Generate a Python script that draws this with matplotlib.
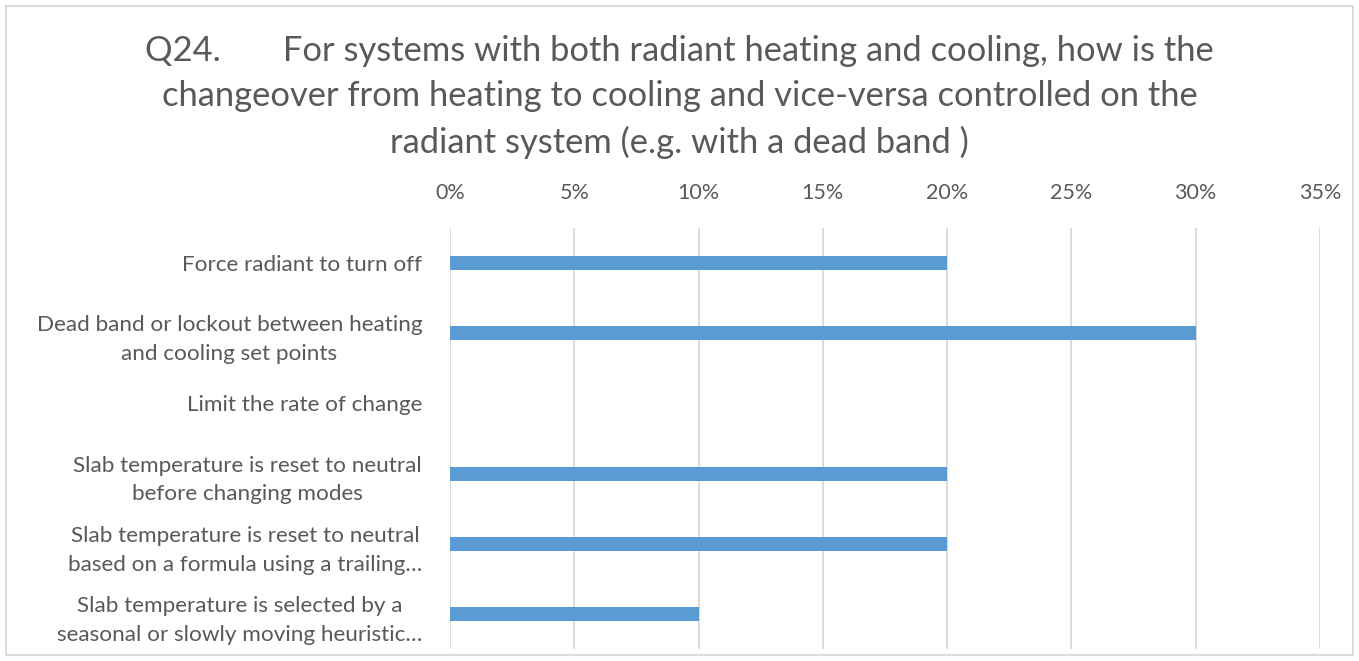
import numpy as np
import matplotlib.pyplot as plt
from matplotlib.patches import Rectangle
from matplotlib.ticker import FuncFormatter

plt.rcParams['font.family'] = ['Lato', 'DejaVu Sans']

categories = [
    "Force radiant to turn off",
    "Dead band or lockout between heating\nand cooling set points",
    "Limit the rate of change",
    "Slab temperature is reset to neutral\nbefore changing modes",
    "Slab temperature is reset to neutral\nbased on a formula using a trailing\u2026",
    "Slab temperature is selected by a\nseasonal or slowly moving heuristic\u2026",
]
values = [0.20, 0.30, 0.0, 0.20, 0.20, 0.10]
xticks = [0, 0.05, 0.10, 0.15, 0.20, 0.25, 0.30, 0.35]

title = ("Q24.       For systems with both radiant heating and cooling, how is the\n"
         "changeover from heating to cooling and vice-versa controlled on the\n"
         "radiant system (e.g. with a dead band )")

W, H = 1359, 661
fig = plt.figure(figsize=(W / 100, H / 100), dpi=100)
ax = fig.add_axes([450 / W, 1 - 649 / H, 870 / W, 421 / H])

y = np.arange(len(categories))
ax.barh(y, values, height=0.2, color='#5B9BD5', zorder=3)
ax.set_ylim(len(categories) - 0.5, -0.5)
ax.set_xlim(0, 0.35)
ax.set_xticks(xticks)
ax.xaxis.set_major_formatter(FuncFormatter(lambda v, p: f"{v * 100:.0f}%"))
ax.xaxis.tick_top()
ax.set_yticks(y)
ax.set_yticklabels(categories, ha='right', multialignment='center',
                   linespacing=1.55)
ax.tick_params(axis='both', length=0, colors='#595959')
ax.tick_params(axis='x', pad=18, labelsize=15.5)
ax.tick_params(axis='y', pad=20, labelsize=16.2)
ax.grid(axis='x', color='#D9D9D9', linewidth=1.3, zorder=0)
for s in ax.spines.values():
    s.set_visible(False)

fig.text(0.5, 1 - 97 / H, title, ha='center', va='center', fontsize=24.8,
         color='#595959', linespacing=1.52)

fig.patches.append(Rectangle((6 / W, 6 / H), 1 - 12 / W, 1 - 12 / H,
                             transform=fig.transFigure, fill=False,
                             edgecolor='#D9D9D9', linewidth=1.3))

fig.savefig('out.png', dpi=100)
